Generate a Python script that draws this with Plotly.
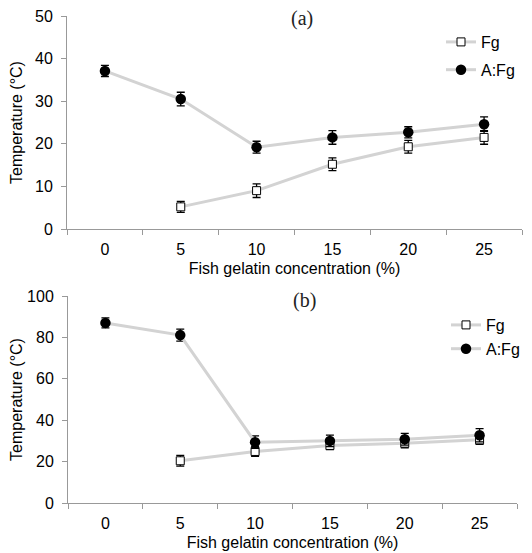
import plotly.graph_objects as go

categories = ["0", "5", "10", "15", "20", "25"]

# Panel (a)
a_fg_x = ["5", "10", "15", "20", "25"]
a_fg_y = [5.2, 9.0, 15.2, 19.3, 21.5]
a_fg_err = [1.3, 1.6, 1.5, 1.5, 1.6]
a_afg_y = [37.1, 30.5, 19.2, 21.5, 22.7, 24.6]
a_afg_err = [1.3, 1.6, 1.4, 1.6, 1.3, 1.7]

# Panel (b)
b_fg_x = ["5", "10", "15", "20", "25"]
b_fg_y = [20.4, 24.9, 27.8, 28.9, 30.5]
b_fg_err = [2.6, 2.4, 2.0, 2.2, 2.2]
b_afg_y = [87.0, 81.1, 29.4, 30.0, 30.8, 32.7]
b_afg_err = [2.4, 2.9, 3.0, 2.8, 2.8, 3.2]

OFF = 8  # default page body margin
W, H = 532 - OFF, 553 - OFF
LINE = "#d3d3d3"
FONT = "Liberation Sans, Arial, sans-serif"
SERIF = "Liberation Serif, Times New Roman, serif"


def px(x):
    return (x - OFF) / W


def py(y):
    return 1 - (y - OFF) / H


fig = go.Figure()


def add_pair(xa, ya, legend, fgx, fgy, fge, afy, afe):
    fig.add_trace(go.Scatter(
        x=fgx, y=fgy, name="Fg", mode="lines+markers",
        xaxis=xa, yaxis=ya, legend=legend, legendgroup=legend + "fg",
        line=dict(color=LINE, width=3),
        marker=dict(symbol="square", size=8, color="white",
                    line=dict(color="black", width=1)),
        error_y=dict(type="data", array=fge, color="black", thickness=1.3, width=4),
    ))
    fig.add_trace(go.Scatter(
        x=categories, y=afy, name="A:Fg", mode="lines+markers",
        xaxis=xa, yaxis=ya, legend=legend, legendgroup=legend + "afg",
        line=dict(color=LINE, width=3),
        marker=dict(symbol="circle", size=10.5, color="black"),
        error_y=dict(type="data", array=afe, color="black", thickness=1.3, width=4),
    ))


add_pair("x", "y", "legend", a_fg_x, a_fg_y, a_fg_err, a_afg_y, a_afg_err)
add_pair("x2", "y2", "legend2", b_fg_x, b_fg_y, b_fg_err, b_afg_y, b_afg_err)


def xax(domain):
    return dict(
        domain=domain, type="category", categoryorder="array",
        categoryarray=categories, range=[-0.5, 5.5], automargin=False,
        tickson="boundaries", ticks="outside", ticklen=5, tickcolor="#999",
        ticklabelstandoff=6, ticklabeloverflow="allow",
        showline=True, linecolor="#999", linewidth=1, showgrid=False,
        zeroline=False, tickfont=dict(family=FONT, size=16, color="black"),
        title=dict(text="Fish gelatin concentration (%)", standoff=5,
                   font=dict(family=FONT, size=16, color="black")),
    )


def yax(domain, rng, dtick):
    return dict(
        domain=domain, range=rng, dtick=dtick, ticks="outside", ticklen=5,
        tickcolor="#999", showline=True, linecolor="#999", linewidth=1,
        showgrid=False, zeroline=False, automargin=False, ticklabelstandoff=5,
        ticklabeloverflow="allow",
        tickfont=dict(family=FONT, size=16, color="black"),
        title=dict(text="Temperature (°C)", standoff=10,
                   font=dict(family=FONT, size=16, color="black")),
    )


fig.update_layout(
    width=W, height=H, margin=dict(l=0, r=0, t=0, b=0, autoexpand=False),
    paper_bgcolor="white", plot_bgcolor="white", showlegend=True,
    xaxis=xax([px(67), px(522)]),
    yaxis=yax([py(229), py(16)], [0, 50], 10),
    xaxis2=dict(xax([px(68), px(517)]), anchor="y2"),
    yaxis2=dict(yax([py(503), py(296)], [0, 100], 20), anchor="x2"),
    legend=dict(x=px(441), y=py(25), xanchor="left", yanchor="top",
                bgcolor="rgba(0,0,0,0)", tracegroupgap=4,
                font=dict(family=FONT, size=16, color="black")),
    legend2=dict(x=px(446), y=py(308), xanchor="left", yanchor="top",
                 bgcolor="rgba(0,0,0,0)", tracegroupgap=0,
                 font=dict(family=FONT, size=16, color="black")),
    annotations=[
        dict(text="(a)", x=px(302), y=py(18), xref="paper", yref="paper",
             xanchor="center", yanchor="middle", showarrow=False,
             font=dict(family=SERIF, size=20, color="#222")),
        dict(text="(b)", x=px(304), y=py(300), xref="paper", yref="paper",
             xanchor="center", yanchor="middle", showarrow=False,
             font=dict(family=SERIF, size=20, color="#222")),
    ],
)

fig.write_html("out.html")
